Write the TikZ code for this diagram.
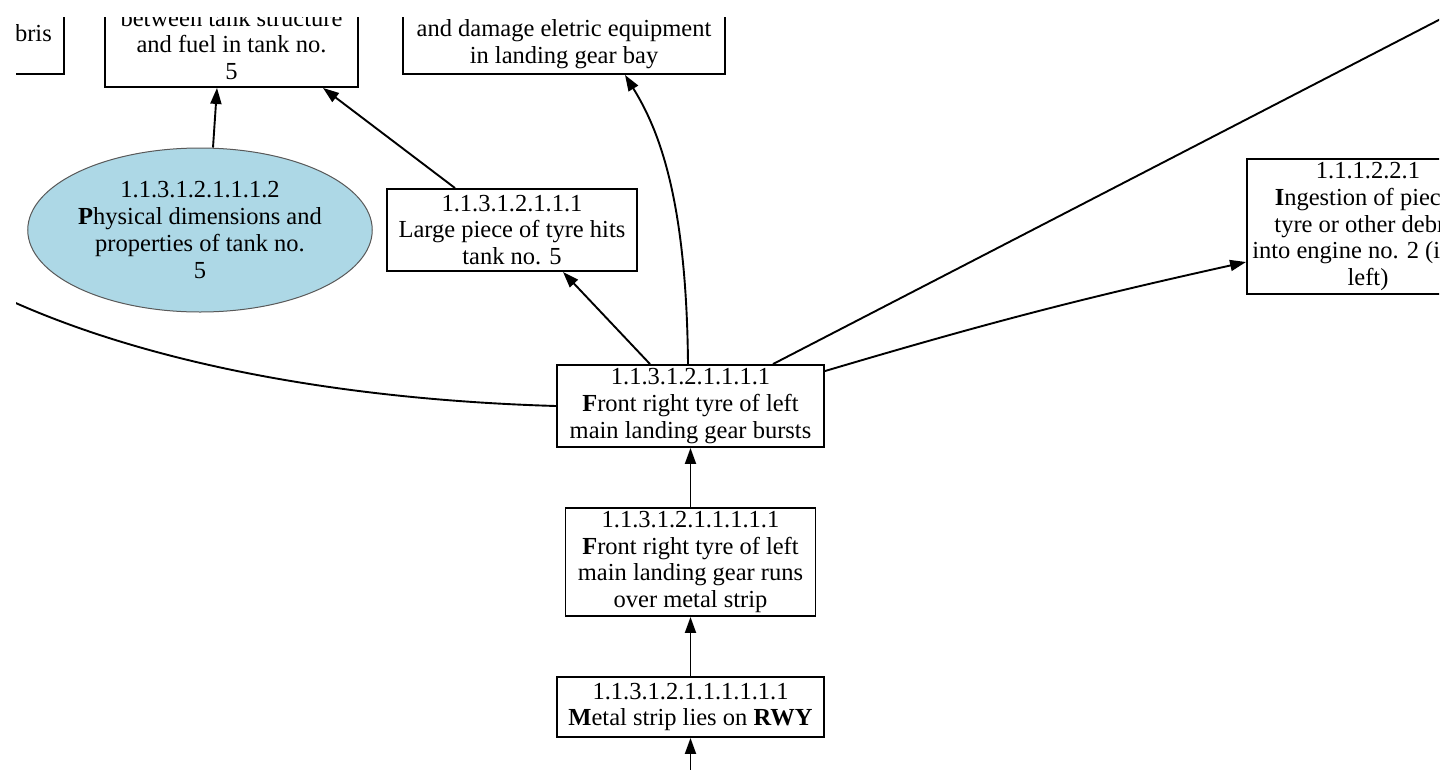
\documentclass[tikz,border=0pt]{standalone}
\usepackage{fontspec}
\setmainfont{Liberation Serif}
\usetikzlibrary{arrows.meta,calc,shapes.geometric}
\definecolor{lightblue}{HTML}{ADD8E6}
\tikzset{
  txt/.style={font=\fontsize{24.5}{26.7}\selectfont},
  box/.style={txt, draw, line width=1.9pt, rectangle, align=center,
    inner xsep=3pt, inner ysep=1pt},
  oval/.style={txt, ellipse, draw=black!65, line width=1pt, fill=lightblue,
    align=center, inner sep=0pt},
  wire/.style={line width=1.9pt},
  arr/.style={wire, -{Triangle[length=16pt,width=11pt]}}
}
\begin{document}
\begin{tikzpicture}[x=1pt,y=-1pt]
\useasboundingbox[fill=white] (0,0) rectangle (1444,769);
\clip (16,17) rectangle (1439,769);

% upper row (effects)
\node[box, minimum width=300pt, minimum height=60pt] (debris) at (-86,44) {};
\node[txt, anchor=east, inner sep=0pt] (debristxt) at (52,33) {debris};
\node[box, minimum width=253pt, minimum height=85pt] (tank) at (231.5,44.5)
  {between tank structure\\and fuel in tank no.\\5};
\node[box, minimum width=322pt, minimum height=60pt] (damage) at (564,44)
  {and damage eletric equipment\\in landing gear bay};

% middle row
\node[oval, minimum width=316pt, minimum height=164pt] (phys) at (200,230)
  {1.1.3.1.2.1.1.1.2\\\textbf{P}hysical dimensions and\\properties of tank no.\\5};
\node[box, minimum width=250pt, minimum height=82pt] (large) at (512,230)
  {1.1.3.1.2.1.1.1\\Large piece of tyre hits\\tank no. 5};
\node[box, minimum width=242pt, minimum height=135pt] (ingest) at (1368,226.5)
  {1.1.1.2.2.1\\\textbf{I}ngestion of pieces\\tyre or other debris\\into engine no. 2 (inner\\left)};

% causal chain
\node[box, minimum width=267pt, minimum height=82pt] (burst) at (690.5,406)
  {1.1.3.1.2.1.1.1.1\\\textbf{F}ront right tyre of left\\main landing gear bursts};
\node[box, minimum width=250pt, minimum height=108pt] (runs) at (690.5,562)
  {1.1.3.1.2.1.1.1.1.1\\\textbf{F}ront right tyre of left\\main landing gear runs\\over metal strip};
\node[box, minimum width=267pt, minimum height=60pt] (metal) at (690.5,707)
  {1.1.3.1.2.1.1.1.1.1.1\\\textbf{M}etal strip lies on \textbf{RWY}};

\coordinate (below) at (690.5,800);
\coordinate (farleft) at (-30,281);
\coordinate (farright) at (1460,9);

% connectors
\draw[arr] (below) -- (metal.south);
\draw[arr] (metal.north) -- (runs.south);
\draw[arr] (runs.north) -- (burst.south);
\draw[arr] ($(burst.north)+(-40.5,0)$) -- ($(large.south)+(51,0)$);
\draw[arr] ($(burst.north)+(-2.5,0)$) .. controls ($(burst.north)+(-4,-165)$) and ($(damage.south)+(95,55)$) .. ($(damage.south)+(61,0)$);
\draw[wire] ($(burst.north)+(82.5,0)$) -- (farright);
\draw[arr] ($(burst.north east)+(0,7)$) to[bend left=2] ($(ingest.west)+(0,35.5)$);
\draw[wire] (burst.west) .. controls (350,400) and (130,365) .. (farleft);
\draw[arr] ($(large.north)+(-57,0)$) -- ($(tank.south)+(91.5,0)$);
\draw[arr] ($(phys.north)+(13,0)$) -- ($(tank.south)+(-14.5,0)$);
\end{tikzpicture}
\end{document}
